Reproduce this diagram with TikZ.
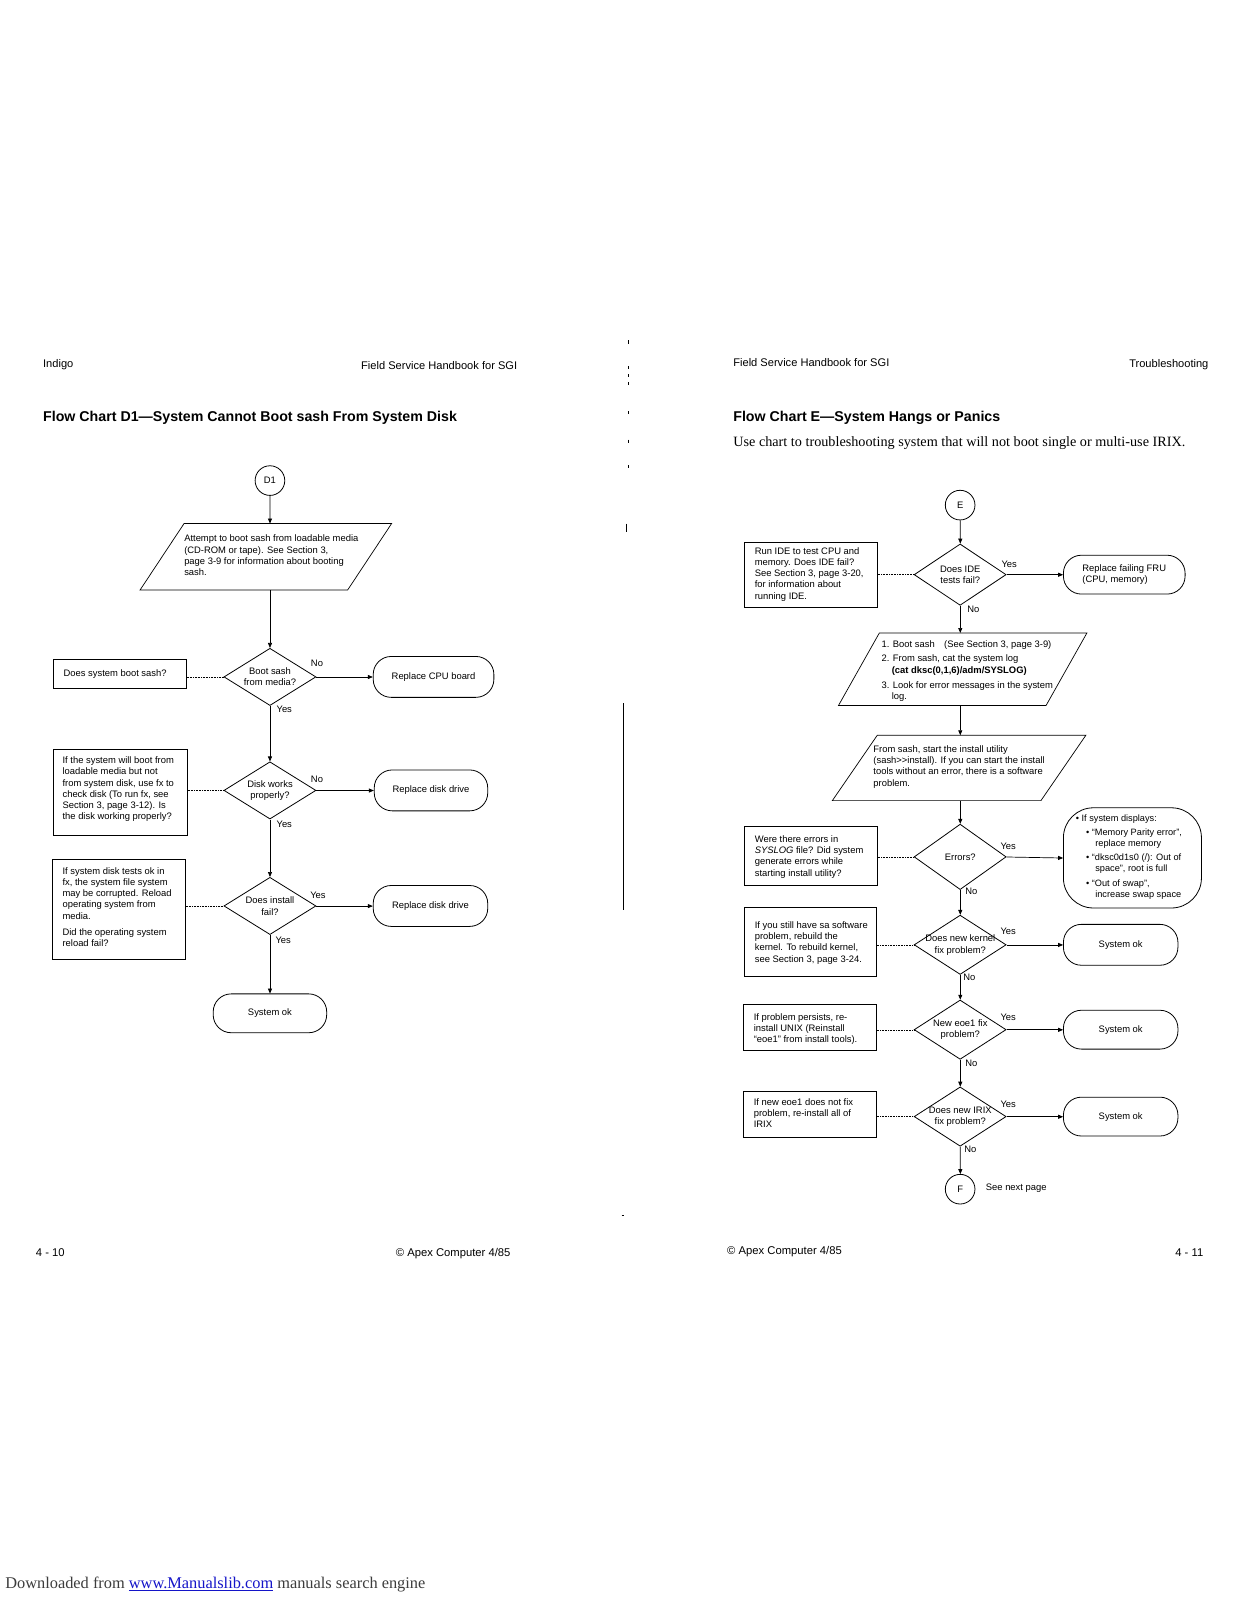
\documentclass[tikz,border=0pt]{standalone}
\usepackage{fontspec}
\setmainfont{Liberation Sans}
\newfontfamily\serifface{Liberation Serif}
\usetikzlibrary{shapes.geometric,arrows.meta}
\definecolor{linkblue}{RGB}{20,20,200}
\definecolor{dlgray}{RGB}{60,60,60}
\begin{document}
\begin{tikzpicture}[x=1pt,y=-1pt,
  every node/.style={inner sep=0pt, font=\fontsize{9.2}{11}\selectfont},
  ln/.style={line width=0.7pt},
  arr/.style={line width=0.7pt, -{Triangle[length=5pt,width=4pt]}},
  dotl/.style={line width=0.6pt, densely dotted},
  boxn/.style={draw, line width=0.8pt, rectangle},
  dia/.style={draw, line width=0.8pt, diamond},
  term/.style={draw, line width=0.8pt, rectangle, rounded corners=18pt, align=left},
  conn/.style={draw, line width=0.8pt, circle, minimum size=29pt},
  txt/.style={align=left, anchor=north west},
  hdr/.style={font=\fontsize{10.85}{12}\selectfont},
  ftr/.style={font=\fontsize{11}{12}\selectfont},
  ttl/.style={font=\bfseries\fontsize{13.9}{16}\selectfont},
]
\useasboundingbox (0,0) rectangle (1237,1600);
\begin{scope}[scale=1.0225, transform shape]

% ---------- headers / footers ----------
\node[hdr, anchor=west] (hL1) at (42,357) {Indigo};
\node[hdr, anchor=east] (hL2) at (506,357) {Field Service Handbook for SGI};
\node[ttl, anchor=west] (tL) at (42,409) {Flow Chart D1---System Cannot Boot sash From System Disk};
\node[hdr, anchor=west] (hR1) at (717,355) {Field Service Handbook for SGI};
\node[hdr, anchor=east] (hR2) at (1182,357) {Troubleshooting};
\node[ttl, anchor=west] (tR) at (717,409) {Flow Chart E---System Hangs or Panics};
\node[anchor=west, font=\serifface\fontsize{13.9}{16}\selectfont] (sR) at (717,433) {Use chart to troubleshooting system that will not boot single or multi-use IRIX.};
\node[ftr, anchor=west] (fL1) at (35,1225) {4 - 10};
\node[ftr, anchor=west] (fL2) at (387,1226) {© Apex Computer 4/85};
\node[ftr, anchor=west] (fR1) at (711,1224) {© Apex Computer 4/85};
\node[ftr, anchor=east] (fR2) at (1177,1225) {4 - 11};
\node[anchor=west, text=dlgray, font=\serifface\fontsize{16}{18}\selectfont] (dl) at (5,1550) {Downloaded from \textcolor{linkblue}{\underline{www.Manualslib.com}} manuals search engine};

% gutter artifacts
\draw[line width=1.1pt] (610,688) -- (610,890);
\foreach \yy in {333,358,366,374,402,430,455} {\draw[line width=0.6pt] (614,\yy) -- (614,\yy+3);}
\draw[line width=0.7pt] (613,512) -- (613,520);
\draw[line width=0.5pt] (608,1188) -- (610,1188);

% ================= LEFT CHART =================
\node[conn] (cD1) at (264,470) {D1};
\draw[ln] (180,512) -- (383,512) -- (340,577) -- (137,577) -- cycle;
\coordinate (p1top) at (264,512);
\coordinate (p1bot) at (264,577);
\node[txt] (p1t) at (180,523) {Attempt to boot sash from loadable media\\(CD-ROM or tape). See Section 3,\\page 3-9 for information about booting\\sash.};

\node[dia, minimum width=90, minimum height=56] (dL1) at (264,662) {};
\node[align=center] (dL1t) at (dL1.center) {Boot sash\\from media?};
\node[dia, minimum width=90, minimum height=56] (dL2) at (264,773) {};
\node[align=center] (dL2t) at (dL2.center) {Disk works\\properly?};
\node[dia, minimum width=90, minimum height=56] (dL3) at (264,886) {};
\node[align=center] (dL3t) at (dL3.center) {Does install\\fail?};

\node[boxn, minimum width=130, minimum height=28] (bL1) at (117,659) {};
\node[anchor=west] (bL1t) at (62,659) {Does system boot sash?};
\node[boxn, minimum width=131, minimum height=84] (bL2) at (117.5,775) {};
\node[txt] (bL2t) at (61,740) {If the system will boot from\\loadable media but not\\from system disk, use fx to\\check disk (To run fx, see\\Section 3, page 3-12). Is\\the disk working properly?};
\node[boxn, minimum width=130, minimum height=98] (bL3) at (116,889) {};
\node[txt] (bL3t) at (61,848) {If system disk tests ok in\\fx, the system file system\\may be corrupted. Reload\\operating system from\\media.\\[5pt]Did the operating system\\reload fail?};

\node[term, minimum width=118, minimum height=40] (tL1) at (424,662) {Replace CPU board};
\node[term, minimum width=111, minimum height=40] (tL2) at (421.5,773) {Replace disk drive};
\node[term, minimum width=112, minimum height=40] (tL3) at (421,886) {Replace disk drive};
\node[term, minimum width=111, minimum height=38] (tL4) at (264,991) {System ok};

\draw[arr] (cD1) -- (p1top);
\draw[arr] (p1bot) -- (dL1.north);
\draw[arr] (dL1.south) -- (dL2.north);
\draw[arr] (dL2.south) -- (dL3.north);
\draw[arr] (dL3.south) -- (tL4.north);
\draw[arr] (dL1.east) -- (tL1.west);
\draw[arr] (dL2.east) -- (tL2.west);
\draw[arr] (dL3.east) -- (tL3.west);
\draw[dotl] (bL1.east |- dL1.west) -- (dL1.west);
\draw[dotl] (bL2.east |- dL2.west) -- (dL2.west);
\draw[dotl] (bL3.east |- dL3.west) -- (dL3.west);

\node (lNo1) at (310,649) {No};
\node (lYes1) at (278,694) {Yes};
\node (lNo2) at (310,762) {No};
\node (lYes2) at (278,806) {Yes};
\node (lYes3) at (311,876) {Yes};
\node (lYes4) at (277,920) {Yes};

% ================= RIGHT CHART =================
\node[conn] (cE) at (939,494) {E};
\node[dia, minimum width=90, minimum height=60] (dR1) at (939,562) {};
\node[align=center] (dR1t) at (dR1.center) {Does IDE\\tests fail?};
\node[boxn, minimum width=130, minimum height=64] (bR1) at (793,562) {};
\node[txt] (bR1t) at (738,535) {Run IDE to test CPU and\\memory. Does IDE fail?\\See Section 3, page 3-20,\\for information about\\running IDE.};
\node[term, minimum width=119, minimum height=38] (tR1) at (1099.5,562) {Replace failing FRU\\(CPU, memory)};

\draw[ln] (860,619) -- (1063,619) -- (1023,690) -- (820,690) -- cycle;
\coordinate (p2top) at (939,619);
\coordinate (p2bot) at (939,690);
\node[txt] (p2t) at (862,626) {1. Boot sash\quad (See Section 3, page 3-9)\\[3.5pt]2. From sash, cat the system log\\\hspace*{10pt}\textbf{(cat dksc(0,1,6)/adm/SYSLOG)}\\[3.5pt]3. Look for error messages in the system\\\hspace*{10pt}log.};

\draw[ln] (858,719) -- (1062,719) -- (1018,783) -- (814,783) -- cycle;
\coordinate (p3top) at (939,719);
\coordinate (p3bot) at (939,783);
\node[txt] (p3t) at (854,729) {From sash, start the install utility\\(sash>{}>install). If you can start the install\\tools without an error, there is a software\\problem.};

\node[dia, minimum width=90, minimum height=64] (dR2) at (939,838) {};
\node (dR2t) at (dR2.center) {Errors?};
\node[boxn, minimum width=130, minimum height=58] (bR2) at (793,837) {};
\node[txt] (bR2t) at (738,817) {Were there errors in\\\textit{SYSLOG} file? Did system\\generate errors while\\starting install utility?};
\node[draw, line width=0.8pt, rectangle, rounded corners=30pt, minimum width=135, minimum height=98] (tR2) at (1107.5,839) {};
\node[txt, font=\fontsize{9}{11}\selectfont] (tR2t) at (1052,797) {\textbullet\ If system displays:\\[2pt]
\hspace*{10pt}\textbullet\ “Memory Parity error”,\\
\hspace*{19pt}replace memory\\[3pt]
\hspace*{10pt}\textbullet\ “dksc0d1s0 (/): Out of\\
\hspace*{19pt}space”, root is full\\[3pt]
\hspace*{10pt}\textbullet\ “Out of swap”,\\
\hspace*{19pt}increase swap space};

\node[dia, minimum width=90, minimum height=58] (dR3) at (939,924) {};
\node[align=center] (dR3t) at (dR3.center) {Does new kernel\\fix problem?};
\node[boxn, minimum width=129, minimum height=68] (bR3) at (792.5,921) {};
\node[txt] (bR3t) at (738,901) {If you still have sa software\\problem, rebuild the\\kernel. To rebuild kernel,\\see Section 3, page 3-24.};
\node[term, minimum width=112, minimum height=40] (tR3) at (1096,924) {System ok};

\node[dia, minimum width=90, minimum height=58] (dR4) at (939,1007) {};
\node[align=center] (dR4t) at (dR4.center) {New eoe1 fix\\problem?};
\node[boxn, minimum width=130, minimum height=45] (bR4) at (792,1004.5) {};
\node[txt] (bR4t) at (737,991) {If problem persists, re-\\install UNIX (Reinstall\\“eoe1” from install tools).};
\node[term, minimum width=112, minimum height=38] (tR4) at (1096,1007) {System ok};

\node[dia, minimum width=90, minimum height=58] (dR5) at (939,1092) {};
\node[align=center] (dR5t) at (dR5.center) {Does new IRIX\\fix problem?};
\node[boxn, minimum width=130, minimum height=45] (bR5) at (792,1089.5) {};
\node[txt] (bR5t) at (737,1074) {If new eoe1 does not fix\\problem, re-install all of\\IRIX};
\node[term, minimum width=112, minimum height=38] (tR5) at (1096,1092) {System ok};

\node[conn, minimum size=29pt] (cF) at (939,1163) {F};
\node[anchor=west] (snp) at (964,1162) {See next page};

\draw[arr] (cE) -- (dR1.north);
\draw[arr] (dR1.south) -- (p2top);
\draw[arr] (p2bot) -- (p3top);
\draw[arr] (p3bot) -- (dR2.north);
\draw[arr] (dR2.south) -- (dR3.north);
\draw[arr] (dR3.south) -- (dR4.north);
\draw[arr] (dR4.south) -- (dR5.north);
\draw[arr] (dR5.south) -- (cF);
\draw[arr] (dR1.east) -- (tR1.west);
\draw[arr] (dR2.east) -- (tR2.west);
\draw[arr] (dR3.east) -- (tR3.west);
\draw[arr] (dR4.east) -- (tR4.west);
\draw[arr] (dR5.east) -- (tR5.west);
\draw[dotl] (bR1.east |- dR1.west) -- (dR1.west);
\draw[dotl] (bR2.east |- dR2.west) -- (dR2.west);
\draw[dotl] (bR3.east |- dR3.west) -- (dR3.west);
\draw[dotl] (bR4.east |- dR4.west) -- (dR4.west);
\draw[dotl] (bR5.east |- dR5.west) -- (dR5.west);

\node (rYes1) at (987,552) {Yes};
\node (rNo1) at (952,596) {No};
\node (rYes2) at (986,828) {Yes};
\node (rNo2) at (950,872) {No};
\node (rYes3) at (986,911) {Yes};
\node (rNo3) at (948,956) {No};
\node (rYes4) at (986,995) {Yes};
\node (rNo4) at (950,1040) {No};
\node (rYes5) at (986,1080) {Yes};
\node (rNo5) at (949,1124) {No};
\end{scope}
\end{tikzpicture}
\end{document}
